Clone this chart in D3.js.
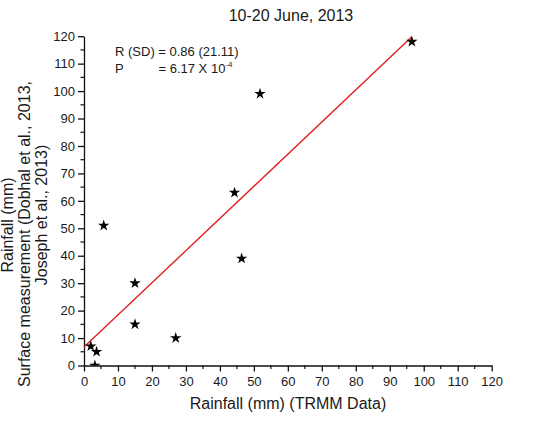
<!DOCTYPE html>
<html><head><meta charset="utf-8">
<script src="https://cdn.jsdelivr.net/npm/d3@7"></script>
<style>body{margin:0;background:#fff}svg{display:block}text{font-family:"Liberation Sans",Arial,sans-serif;fill:#1a1a1a}</style>
</head><body><svg id="c" width="545" height="422"></svg>
<script>
const trmmX = [2, 3.7, 3.2, 5.8, 15, 15, 27, 44.3, 46.4, 51.8, 96.5];
const surfaceY = [7, 5, 0, 51, 30, 15, 10, 63, 39, 99, 118];
const fitX = [0, 96.5];
const fitY = [6.7, 119.8];
const tickValues = [0,10,20,30,40,50,60,70,80,90,100,110,120];
const minorTicks = d3.range(5, 120, 10);
const title = "10-20 June, 2013";
const xTitle = "Rainfall (mm) (TRMM Data)";
const yTitle = ["Rainfall (mm)", "Surface measurement (Dobhal et al., 2013,", "Joseph et al., 2013)"];
const statLine1 = "R (SD) = 0.86 (21.11)";
const statP = "P", statPval = "= 6.17 X 10", statExp = "-4";

const svg = d3.select("#c");
const x = d3.scaleLinear().domain([0,120]).range([84, 491.7]);
const y = d3.scaleLinear().domain([0,120]).range([365.5, 36.2]);

// clip
svg.append("defs").append("clipPath").attr("id","pc").append("rect")
  .attr("x", x(0)).attr("y", y(120)-10).attr("width", x(120)-x(0)+10).attr("height", y(0)-y(120)+10);

// axes
const xa = svg.append("g").attr("transform",`translate(0,${y(0)})`)
  .call(d3.axisBottom(x).tickValues(tickValues).tickSize(6).tickPadding(5).tickSizeOuter(0));
const ya = svg.append("g").attr("transform",`translate(${x(0)},0)`)
  .call(d3.axisLeft(y).tickValues(tickValues).tickSize(6).tickPadding(3).tickSizeOuter(0));
[xa, ya].forEach(g => {
  g.select(".domain").attr("stroke","#111").attr("stroke-width",1.3);
  g.selectAll(".tick line").attr("stroke","#111").attr("stroke-width",1.3);
  g.selectAll(".tick text").attr("font-size",13).attr("fill","#1a1a1a").attr("font-family","Liberation Sans, Arial, sans-serif");
});
xa.selectAll(".minor").data(minorTicks).enter().append("line")
  .attr("x1", d=>x(d)).attr("x2", d=>x(d)).attr("y1",0).attr("y2",3.5)
  .attr("stroke","#111").attr("stroke-width",1.2);
ya.selectAll(".minor").data(minorTicks).enter().append("line")
  .attr("y1", d=>y(d)).attr("y2", d=>y(d)).attr("x1",0).attr("x2",-3.5)
  .attr("stroke","#111").attr("stroke-width",1.2);

// fit line
svg.append("line")
  .attr("x1", x(fitX[0])).attr("y1", y(fitY[0]))
  .attr("x2", x(fitX[1])).attr("y2", y(fitY[1]))
  .attr("stroke","#e02020").attr("stroke-width",1.4);

// points
const pts = trmmX.map((v,i)=>[v, surfaceY[i]]);
svg.append("g").attr("clip-path","url(#pc)").selectAll("path").data(pts).enter().append("path")
  .attr("d", d3.symbol().type(d3.symbolStar).size(40))
  .attr("transform", d=>`translate(${x(d[0])},${y(d[1])})`)
  .attr("fill","#000");

// title
svg.append("text").attr("x",291).attr("y",21).attr("text-anchor","middle").attr("font-size",16).text(title);
svg.append("text").attr("x",288).attr("y",409).attr("text-anchor","middle").attr("font-size",16).text(xTitle);

// y title lines
const yPos = [[13,225],[30,234],[47,215]];
yTitle.forEach((t,i)=>{
  svg.append("text").attr("transform",`translate(${yPos[i][0]},${yPos[i][1]}) rotate(-90)`)
    .attr("text-anchor","middle").attr("font-size",16).text(t);
});

// stats
svg.append("text").attr("x",115).attr("y",56).attr("font-size",13).text(statLine1);
svg.append("text").attr("x",115).attr("y",73).attr("font-size",13).text(statP);
const pv = svg.append("text").attr("x",158.5).attr("y",73).attr("font-size",13);
pv.append("tspan").text(statPval);
pv.append("tspan").attr("font-size",8).attr("dy",-6).text(statExp);
</script></body></html>
